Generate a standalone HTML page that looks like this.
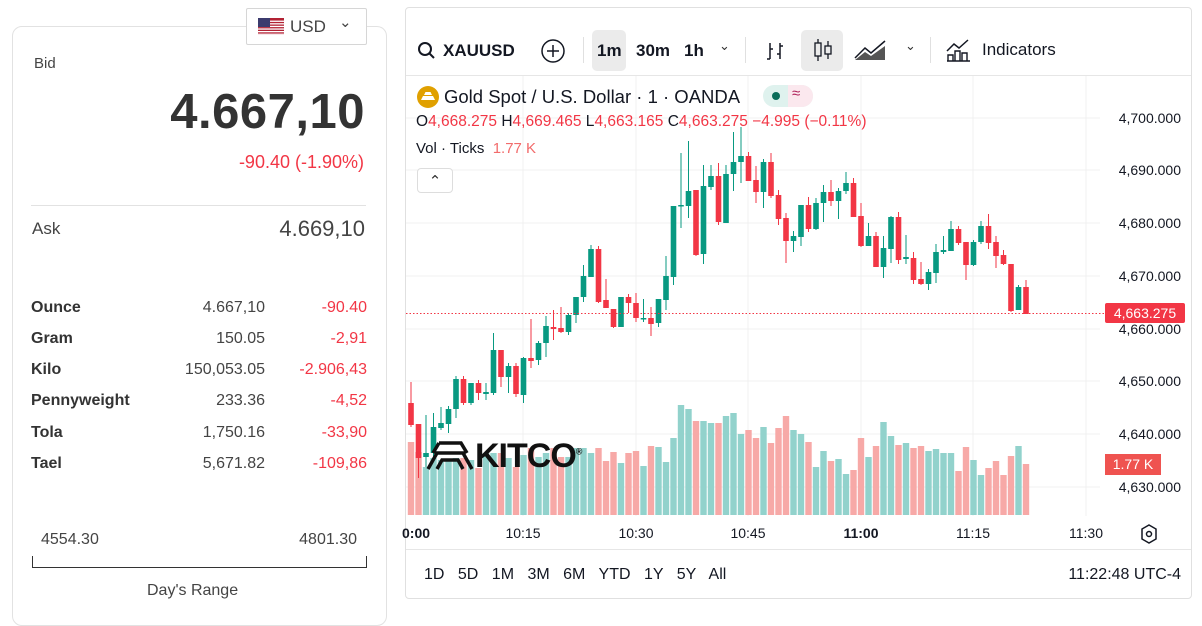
<!DOCTYPE html>
<html><head><meta charset="utf-8">
<style>
*{box-sizing:border-box;margin:0;padding:0}
body{width:1202px;height:611px;background:#fff;font-family:"Liberation Sans",sans-serif;position:relative;overflow:hidden;color:#333}
.abs{position:absolute}
.left{left:12px;top:26px;width:375px;height:600px;border:1px solid #e2e2e2;border-radius:10px}
.usd{left:246px;top:8px;width:121px;height:37px;border:1px solid #d6d6d6;border-radius:2px;background:#fff;font-size:17px;color:#444}
.row{position:absolute;font-size:16px}
.card{left:405px;top:7px;width:787px;height:592px;border:1px solid #e0e0e0;border-radius:4px}
.tb{font-size:17px;color:#131722;font-weight:bold}
.ax{font-size:13px;color:#131722}
</style></head><body>
<div class="abs left"></div>
<div class="abs usd">
 <svg class="abs" style="left:11px;top:9px" width="26" height="17"><rect width="26" height="17" fill="#b22234"/><g fill="#fff"><rect y="2.6" width="26" height="1.3"/><rect y="5.2" width="26" height="1.3"/><rect y="7.8" width="26" height="1.3"/><rect y="10.4" width="26" height="1.3"/><rect y="13" width="26" height="1.3"/><rect y="15.6" width="26" height="1.3"/></g><rect width="12" height="9" fill="#3c3b6e"/></svg>
 <span class="abs" style="left:43px;top:8px">USD</span>
 <span class="abs" style="left:92px;top:4px;font-size:15px">&#8964;</span>
</div>
<div class="abs" style="left:34px;top:55px;font-size:15px;color:#444">Bid</div>
<div class="abs" style="right:837px;top:84px;font-size:49px;font-weight:bold;color:#333;letter-spacing:0.5px">4.667,10</div>
<div class="abs" style="right:838px;top:152px;font-size:18px;color:#f23645">-90.40 (-1.90%)</div>
<div class="abs" style="left:31px;top:205px;width:335px;border-top:1px solid #e2e2e2"></div>
<div class="abs" style="left:32px;top:219px;font-size:17px;color:#444">Ask</div>
<div class="abs" style="right:837px;top:216px;font-size:22px;color:#444">4.669,10</div>
<div class="row" style="left:31px;top:299px;font-weight:bold">Ounce</div><div class="row" style="right:937px;top:299px;color:#444">4.667,10</div><div class="row" style="right:835px;top:299px;color:#f23645">-90.40</div>
<div class="row" style="left:31px;top:330px;font-weight:bold">Gram</div><div class="row" style="right:937px;top:330px;color:#444">150.05</div><div class="row" style="right:835px;top:330px;color:#f23645">-2,91</div>
<div class="row" style="left:31px;top:361px;font-weight:bold">Kilo</div><div class="row" style="right:937px;top:361px;color:#444">150,053.05</div><div class="row" style="right:835px;top:361px;color:#f23645">-2.906,43</div>
<div class="row" style="left:31px;top:392px;font-weight:bold">Pennyweight</div><div class="row" style="right:937px;top:392px;color:#444">233.36</div><div class="row" style="right:835px;top:392px;color:#f23645">-4,52</div>
<div class="row" style="left:31px;top:424px;font-weight:bold">Tola</div><div class="row" style="right:937px;top:424px;color:#444">1,750.16</div><div class="row" style="right:835px;top:424px;color:#f23645">-33,90</div>
<div class="row" style="left:31px;top:455px;font-weight:bold">Tael</div><div class="row" style="right:937px;top:455px;color:#444">5,671.82</div><div class="row" style="right:835px;top:455px;color:#f23645">-109,86</div>
<div class="row" style="left:41px;top:531px;color:#444">4554.30</div>
<div class="row" style="right:845px;top:531px;color:#444">4801.30</div>
<div class="abs" style="left:32px;top:556px;width:335px;height:12px;border:1px solid #333;border-top:none"></div>
<div class="row" style="left:147px;top:582px;color:#444">Day's Range</div>

<div class="abs card"></div>
<div class="abs" style="left:406px;top:75px;width:785px;border-top:1px solid #e6e6e6"></div>
<svg class="abs" style="left:417px;top:41px" width="20" height="20"><circle cx="8" cy="8" r="6" fill="none" stroke="#131722" stroke-width="2"/><line x1="12.5" y1="12.5" x2="17" y2="17" stroke="#131722" stroke-width="2"/></svg>
<div class="abs tb" style="left:443px;top:41px">XAUUSD</div>
<svg class="abs" style="left:540px;top:38px" width="26" height="26"><circle cx="13" cy="13" r="11" fill="none" stroke="#131722" stroke-width="1.5"/><path d="M13 7v12M7 13h12" stroke="#131722" stroke-width="1.5"/></svg>
<div class="abs" style="left:583px;top:37px;width:1px;height:26px;background:#e0e0e0"></div>
<div class="abs" style="left:592px;top:30px;width:34px;height:41px;background:#ebebeb;border-radius:5px"></div>
<div class="abs tb" style="left:597px;top:41px">1m</div>
<div class="abs tb" style="left:636px;top:41px">30m</div>
<div class="abs tb" style="left:684px;top:41px">1h</div>
<div class="abs" style="left:719px;top:38px;font-size:13px">&#8964;</div>
<div class="abs" style="left:745px;top:37px;width:1px;height:26px;background:#e0e0e0"></div>
<svg class="abs" style="left:764px;top:40px" width="22" height="22"><path d="M6 3v16M6 19h-3M16 3v16M16 6h3M6 9h3M16 14h-3" stroke="#131722" stroke-width="1.5" fill="none"/></svg>
<div class="abs" style="left:801px;top:30px;width:42px;height:41px;background:#ebebeb;border-radius:5px"></div>
<svg class="abs" style="left:812px;top:37px" width="22" height="26"><path d="M6 2v22M16 4v18" stroke="#131722" stroke-width="1.3"/><rect x="3" y="6" width="6" height="13" fill="#ebebeb" stroke="#131722" stroke-width="1.3"/><rect x="13" y="9" width="6" height="8" fill="#ebebeb" stroke="#131722" stroke-width="1.3"/></svg>
<svg class="abs" style="left:853px;top:38px" width="34" height="24"><path d="M2 20L12 10L18 15L32 3" stroke="#131722" stroke-width="1.5" fill="none"/><path d="M2 22L12 14L18 18L32 8V22Z" fill="#555"/></svg>
<div class="abs" style="left:905px;top:38px;font-size:13px">&#8964;</div>
<div class="abs" style="left:930px;top:37px;width:1px;height:26px;background:#e0e0e0"></div>
<svg class="abs" style="left:946px;top:38px" width="26" height="24"><path d="M1 13L8 6L13 10L22 2" stroke="#131722" stroke-width="1.5" fill="none"/><path d="M2 23V17h5v6M9 23V13h5v10M16 23V15h5v8M1 23h23" stroke="#131722" stroke-width="1.4" fill="none"/></svg>
<div class="abs" style="left:982px;top:40px;font-size:17px;color:#131722">Indicators</div>

<svg class="abs" style="left:0;top:0" width="1202" height="611" id="ch"></svg>

<svg class="abs" style="left:416px;top:85px" width="24" height="24"><circle cx="12" cy="12" r="11" fill="#e0a000"/><path d="M5 15h14l-2-4H7zM8 10h8l-1.5-3h-5z" fill="#fff"/></svg>
<div class="abs" style="left:444px;top:86px;font-size:18.5px;color:#131722">Gold Spot / U.S. Dollar · 1 · OANDA</div>
<div class="abs" style="left:763px;top:85px;width:50px;height:22px;border-radius:11px;background:#dff2ee"></div>
<div class="abs" style="left:788px;top:85px;width:25px;height:22px;border-radius:0 11px 11px 0;background:#fbe8ee"></div>
<div class="abs" style="left:772px;top:92px;width:8px;height:8px;border-radius:4px;background:#0a6e5a"></div>
<div class="abs" style="left:792px;top:85px;font-size:15px;color:#b0225a">≈</div>
<div class="abs" style="left:416px;top:113px;font-size:15.5px;color:#131722;white-space:nowrap">O<span style="color:#f23645">4,668.275</span> H<span style="color:#f23645">4,669.465</span> L<span style="color:#f23645">4,663.165</span> C<span style="color:#f23645">4,663.275 −4.995 (−0.11%)</span></div>
<div class="abs" style="left:416px;top:140px;font-size:15px;color:#131722">Vol · Ticks &nbsp;<span style="color:#f26b6b">1.77 K</span></div>
<div class="abs" style="left:417px;top:168px;width:36px;height:25px;border:1px solid #ddd;border-radius:4px;background:#fff;text-align:center;font-size:15px;line-height:26px">&#8963;</div>

<div class="abs" style="left:425px;top:437px;font-size:34px;font-weight:bold;color:#111;letter-spacing:-1px;font-family:'Liberation Sans',sans-serif">
<svg style="vertical-align:-4px" width="50" height="30"><path d="M3 28L12 12h26l9 16M14 2h22l6 10M8 12l6-10M12 28l5-9h16l5 9" stroke="#111" stroke-width="3.5" fill="none"/></svg>KITCO<sup style="font-size:9px">®</sup></div>

<div class="abs ax" style="left:1105px;top:303px;width:80px;height:20px;background:#f23645;color:#fff;text-align:center;line-height:20px;border-radius:2px;font-size:14px">4,663.275</div>
<div class="abs ax" style="left:1105px;top:454px;width:56px;height:21px;background:#ef5350;color:#fff;text-align:center;line-height:21px;font-size:14px">1.77 K</div>

<div class="abs" style="left:406px;top:549px;width:785px;border-top:1px solid #e6e6e6"></div>
<div class="abs" style="left:424px;top:566px;font-size:16px;color:#131722;word-spacing:9px">1D 5D 1M 3M 6M YTD 1Y 5Y All</div>
<div class="abs" style="right:21px;top:566px;font-size:16px;color:#131722">11:22:48 UTC-4</div>
<svg class="abs" style="left:1139px;top:523px" width="20" height="22"><path d="M10 2L17 6V16L10 20L3 16V6Z" fill="none" stroke="#131722" stroke-width="1.5"/><circle cx="10" cy="11" r="2.5" fill="none" stroke="#131722" stroke-width="1.5"/></svg>

<script>
var C=[
[403,425,382,427,0],[424,458,424,478,0],[453,457,415,467,1],[427,453,413,457,1],[423,428,407,430,1],[409,424,406,433,1],[379,409,376,418,1],[379,403,376,405,0],[383,403,383,405,1],[383,393,380,400,0],[392,394,383,400,1],[350,393,333,395,1],[350,377,350,387,0],[366,377,363,393,1],[366,394,363,397,0],[358,395,357,403,1],[358,361,319,368,0],[343,360,341,365,1],[326,343,316,357,1],[327,329,310,340,0],[328,332,307,333,0],[315,332,313,335,1],[297,315,297,323,1],[276,297,265,302,1],[249,277,245,277,1],[249,302,246,303,0],[300,308,279,308,0],[309,327,309,328,0],[297,327,297,327,1],[297,303,294,313,0],[303,318,293,322,0],[318,319,299,322,1],[318,324,307,336,0],[299,323,299,327,1],[276,300,256,310,1],[206,277,206,285,1],[205,206,153,228,1],[191,206,141,218,1],[190,255,190,256,0],[186,254,165,264,1],[176,187,165,190,1],[176,222,163,225,0],[174,223,165,223,1],[162,174,132,191,1],[156,162,127,183,1],[156,181,152,181,0],[180,192,166,203,0],[162,192,159,208,1],[162,196,153,198,0],[195,219,190,225,0],[218,241,213,263,0],[236,241,231,252,1],[205,237,205,246,1],[205,229,197,232,0],[203,229,198,230,1],[192,203,185,222,1],[192,201,180,206,0],[191,201,188,219,1],[183,191,172,194,1],[183,217,178,217,0],[216,246,203,247,0],[236,246,223,246,1],[236,267,232,267,0],[248,267,236,278,1],[217,249,216,263,1],[217,260,212,264,0],[257,259,235,264,1],[258,280,252,284,0],[279,284,262,285,0],[272,284,269,290,1],[252,273,244,283,1],[250,252,236,254,1],[229,251,221,251,1],[229,243,226,245,0],[242,265,242,280,0],[242,265,240,266,1],[226,242,221,244,1],[226,243,214,249,0],[242,256,236,268,0],[255,264,250,265,0],[264,311,264,312,0],[287,310,285,310,1],[287,314,280,314,0]];
var V=[442,452,467,458,460,460,458,458,460,468,453,453,453,458,467,455,448,457,453,448,457,457,448,448,453,448,461,452,463,453,451,466,446,447,462,438,405,409,421,421,423,423,416,413,434,430,438,427,443,428,416,430,434,442,467,451,461,459,474,470,438,457,446,422,436,445,443,448,446,451,449,453,453,471,447,460,475,468,461,475,456,446,464];
var s='';
[118,170,223,276,329,381,434,487].forEach(function(y){s+='<line x1="406" x2="1100" y1="'+y+'" y2="'+y+'" stroke="#f0f0f0"/>';});
[523,636,748,861,973,1086].forEach(function(x){s+='<line x1="'+x+'" x2="'+x+'" y1="76" y2="516" stroke="#f0f0f0"/>';});
V.forEach(function(t,i){var x=411+7.5*i;s+='<rect x="'+(x-3.2)+'" y="'+t+'" width="6.4" height="'+(515-t)+'" fill="'+(C[i][4]?'#92d2cc':'#f7a9a7')+'"/>';});
C.forEach(function(c,i){var x=411+7.5*i,col=c[4]?'#089981':'#f23645';s+='<line x1="'+x+'" x2="'+x+'" y1="'+c[2]+'" y2="'+c[3]+'" stroke="'+col+'" stroke-width="1"/><rect x="'+(x-2.8)+'" y="'+c[0]+'" width="5.6" height="'+Math.max(1.5,c[1]-c[0])+'" fill="'+col+'"/>';});
s+='<line x1="406" x2="1108" y1="313.5" y2="313.5" stroke="#f23645" stroke-dasharray="1.5 2"/>';
var P=['4,700.000','4,690.000','4,680.000','4,670.000','4,660.000','4,650.000','4,640.000','4,630.000'];
[118,170,223,276,329,381,434,487].forEach(function(y,i){s+='<text x="1181" y="'+(y+5)+'" text-anchor="end" font-size="14" fill="#131722" font-family="Liberation Sans">'+P[i]+'</text>';});
[['10:15',523],['10:30',636],['10:45',748],['11:00',861],['11:15',973],['11:30',1086]].forEach(function(t){s+='<text x="'+t[1]+'" y="538" text-anchor="middle" font-size="14" fill="#131722" font-family="Liberation Sans"'+(t[0]=='11:00'?' font-weight="bold"':'')+'>'+t[0]+'</text>';});
s+='<text x="402" y="538" font-size="14" font-weight="bold" fill="#131722" font-family="Liberation Sans">0:00</text>';
document.getElementById('ch').innerHTML=s;
</script>
</body></html>
